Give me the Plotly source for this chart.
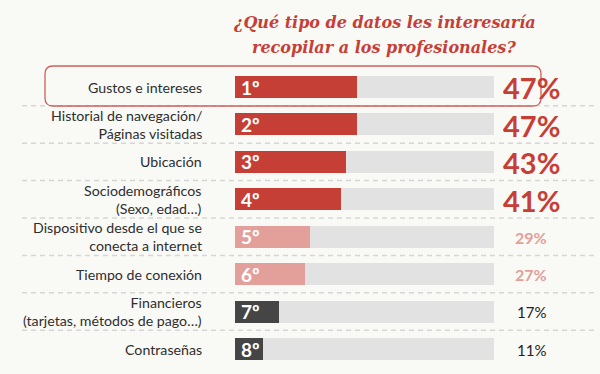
import plotly.graph_objects as go

categories = [
    "Gustos e intereses",
    "Historial de navegación/<br>Páginas visitadas",
    "Ubicación",
    "Sociodemográficos<br>(Sexo, edad…)",
    "Dispositivo desde el que se<br>conecta a internet",
    "Tiempo de conexión",
    "Financieros<br>(tarjetas, métodos de pago…)",
    "Contraseñas",
]
values = [47, 47, 43, 41, 29, 27, 17, 11]
ranks = ["1º", "2º", "3º", "4º", "5º", "6º", "7º", "8º"]
title_lines = ["¿Qué tipo de datos les interesaría", "recopilar a los profesionales?"]
scale_max = 100

W, H = 600, 374
bar_x0, bar_x1 = 235, 494
row0, row_step = 87, 37.43
ppu = (bar_x1 - bar_x0) / scale_max

def px2x(p):
    return (p - bar_x0) / ppu

def py2y(p):
    return (p - row0) / row_step

RED = "#c63f36"
PINK = "#e3a09b"
DARK = "#454545"
TRACK = "#e2e2e2"
BG = "#f9f9f6"

def tier(i):
    return 0 if i < 4 else (1 if i < 6 else 2)

bar_colors = [[RED, PINK, DARK][tier(i)] for i in range(len(values))]
ys = list(range(len(categories)))

fig = go.Figure()
fig.add_trace(go.Bar(x=[scale_max] * len(ys), y=ys, orientation="h",
                     marker=dict(color=TRACK, line=dict(width=0)),
                     width=22 / row_step, hoverinfo="skip", showlegend=False))
fig.add_trace(go.Bar(x=values, y=ys, orientation="h",
                     marker=dict(color=bar_colors, line=dict(width=0)),
                     width=22 / row_step, showlegend=False))

# separators
for i in range(len(ys) - 1):
    fig.add_shape(type="line", xref="paper", yref="y",
                  x0=22 / W, x1=597 / W, y0=i + 0.5, y1=i + 0.5,
                  line=dict(color="#d6d6d6", width=1.5, dash="5px,4px"), layer="below")

# highlight rounded rect for first row (pixel coords -> paper)
lx, rx, ty, by, r = 45, 541, 66, 106, 8
def P(x, y):
    return f"{x / W:.5f},{1 - y / H:.5f}"
path = (f"M {P(lx + r, ty)} L {P(rx - r, ty)} Q {P(rx, ty)} {P(rx, ty + r)} "
        f"L {P(rx, by - r)} Q {P(rx, by)} {P(rx - r, by)} "
        f"L {P(lx + r, by)} Q {P(lx, by)} {P(lx, by - r)} "
        f"L {P(lx, ty + r)} Q {P(lx, ty)} {P(lx + r, ty)} Z")
fig.add_shape(type="path", xref="paper", yref="paper", path=path,
              line=dict(color="#d0605a", width=1.3), fillcolor="rgba(0,0,0,0)")

label_font = "Lato, sans-serif"
for i, (cat, v, rk) in enumerate(zip(categories, values, ranks)):
    fig.add_annotation(x=px2x(204), y=i, text=cat, xanchor="right", yanchor="middle",
                       align="right", showarrow=False,
                       font=dict(family=label_font, size=14.2, color="#2e2e2e"))
    fig.add_annotation(x=px2x(239), y=i, text=f"<b>{rk}</b>", xanchor="left",
                       yanchor="middle", showarrow=False,
                       font=dict(family="Lato, sans-serif", size=19, color="white"))
    t = tier(i)
    if t == 0:
        txt, fnt = f"<b>{v}%</b>", dict(family="Lato, sans-serif", size=29, color=RED)
    elif t == 1:
        txt, fnt = f"<b>{v}%</b>", dict(family="Lato, sans-serif", size=16, color=PINK)
    else:
        txt, fnt = f"{v}%", dict(family="Lato, sans-serif", size=15, color="#222222")
    fig.add_annotation(x=px2x(531), y=i + 0.02, text=txt, xanchor="center",
                       yanchor="middle", showarrow=False, font=fnt)

# title
for j, line in enumerate(title_lines):
    fig.add_annotation(xref="paper", yref="paper", x=384 / W, y=1 - (22 + j * 25) / H,
                       text=f"<b><i>{line}</i></b>", showarrow=False,
                       xanchor="center", yanchor="middle",
                       font=dict(family="DejaVu Serif, serif", size=16, color=RED))

fig.update_layout(
    width=W, height=H, margin=dict(l=0, r=0, t=0, b=0),
    paper_bgcolor=BG, plot_bgcolor=BG, barmode="overlay", bargap=0,
    xaxis=dict(range=[px2x(0), px2x(W)], visible=False, fixedrange=True),
    yaxis=dict(range=[py2y(H), py2y(0)], visible=False, fixedrange=True),
)

fig.write_html("out.html", config={"displayModeBar": False},
               post_script="document.body.style.margin='0';document.body.style.overflow='hidden';")
